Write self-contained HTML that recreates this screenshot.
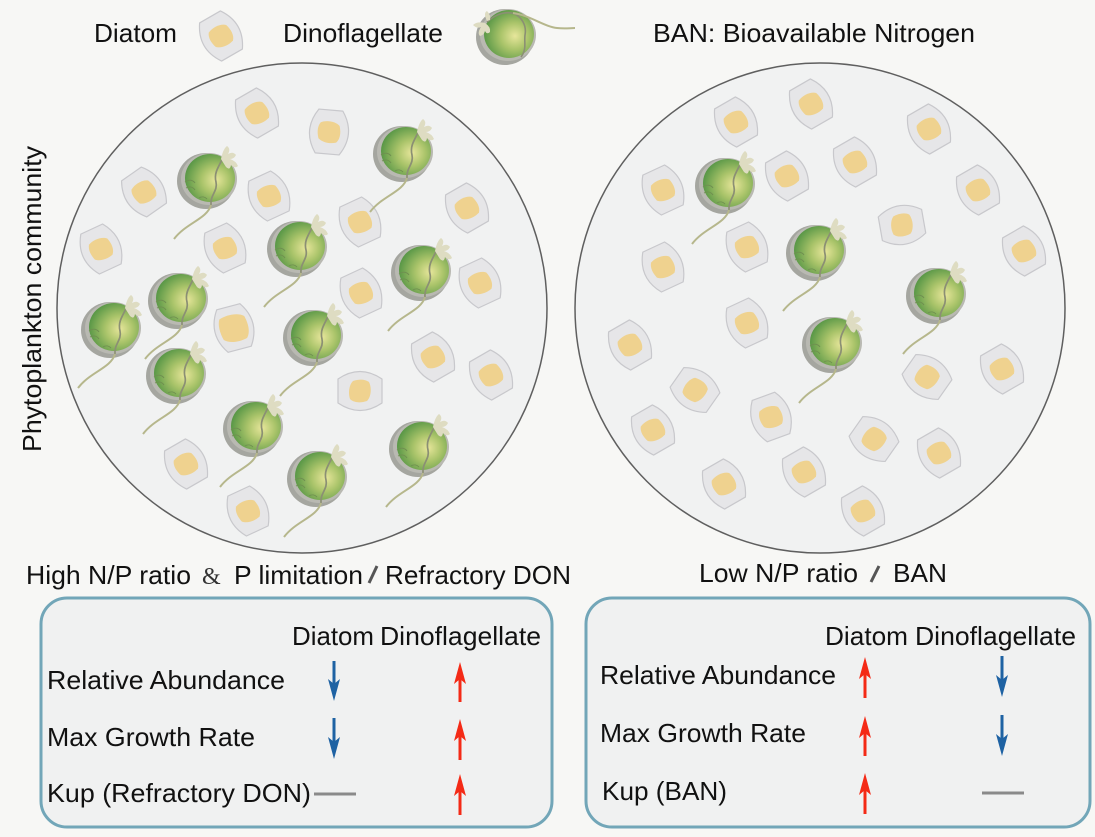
<!DOCTYPE html>
<html><head><meta charset="utf-8"><style>
html,body{margin:0;padding:0;background:#f7f7f5;}
svg{display:block;}
text{font-family:"Liberation Sans",Arial,sans-serif;fill:#111;font-size:26px;}
</style></head><body>
<svg width="1095" height="837" viewBox="0 0 1095 837" xmlns="http://www.w3.org/2000/svg">
<defs>
<radialGradient id="gg" cx="0.6" cy="0.55" r="0.62" fx="0.62" fy="0.54">
<stop offset="0" stop-color="#e7e69b"/>
<stop offset="0.45" stop-color="#aac46a"/>
<stop offset="1" stop-color="#559545"/>
</radialGradient>
<g id="dia">
<path d="M-12,-22 L12,-22 Q27,0 12,22 L-12,22 Q-27,0 -12,-22Z" fill="#e6e6e8" stroke="#c8c8cc" stroke-width="1.2" stroke-linejoin="round"/>
<path d="M-9,-9 C-3,-12 6,-11 10,-7 C12,-1 12,6 8,10 C2,12 -6,11 -10,7 C-12,1 -12,-5 -9,-9Z" fill="#efd28f"/>
</g>
<g id="diab">
<path d="M-12,-22 L12,-22 Q27,0 12,22 L-12,22 Q-27,0 -12,-22Z" fill="#e6e6e8" stroke="#c8c8cc" stroke-width="1.2" stroke-linejoin="round"/>
<path d="M-12,-12 C-4,-15 8,-14 13,-9 C15,-1 15,8 10,13 C2,15 -8,14 -13,9 C-15,1 -15,-7 -12,-12Z" fill="#efd28f"/>
</g>
<g id="dino">
<ellipse cx="-2" cy="2" rx="29" ry="28" fill="#a5a6a0"/>
<ellipse cx="1" cy="0" rx="28" ry="26" fill="#b9b9b2"/>
<ellipse cx="2" cy="-1" rx="25" ry="24" fill="url(#gg)"/>
<path d="M-23,3 c4,-3 8,-2 10,1 M-22,9 c4,-2 7,-1 9,2 M-9,19 c3,-2 6,-1 8,1" stroke="#6f8f50" fill="none" stroke-width="0.9"/>
<path d="M15,-21 C9,-10 6,-5 8,3 C10,12 2,16 3,26" stroke="#8b8f74" fill="none" stroke-width="1.7"/>
<path d="M3,26 C-1,40 -22,44 -34,60" stroke="#b6b78c" fill="none" stroke-width="2"/>
<path d="M13,-20 Q15,-30 19,-33 Q23,-30 20,-25 Q25,-28 28,-24 Q26,-20 22,-20 Q28,-18 30,-13 Q27,-10 23,-14 Q22,-8 18,-12 Q16,-15 13,-20Z" fill="#dedcc2"/>
</g>
</defs>

<!-- header -->
<text x="94" y="42" textLength="83" lengthAdjust="spacingAndGlyphs">Diatom</text>
<use href="#dia" transform="translate(221,36) rotate(-30)"/>
<text x="283" y="42" textLength="160" lengthAdjust="spacingAndGlyphs">Dinoflagellate</text>
<g transform="translate(507,35)">
<ellipse cx="-2" cy="2" rx="29" ry="28" fill="#a5a6a0"/>
<ellipse cx="1" cy="0" rx="28" ry="26" fill="#b9b9b2"/>
<ellipse cx="2" cy="-1" rx="25" ry="24" fill="url(#gg)"/>
<path d="M-20,-13 C-10,-22 0,-24 8,-21 C14,-18 20,-10 18,0 C17,8 20,14 14,22" stroke="#8b8f74" fill="none" stroke-width="1.6"/>
<path d="M6,-22 C22,-20 38,-8 50,-7 C58,-6 63,-7 68,-7" stroke="#b6b78c" fill="none" stroke-width="2"/>
<path d="M-22,-12 Q-30,-14 -34,-10 Q-30,-6 -26,-8 Q-30,-2 -27,1 Q-23,0 -22,-4 Q-20,0 -17,-3 Q-16,-8 -22,-12Z M-20,-14 Q-24,-22 -20,-24 Q-16,-20 -17,-15Z" fill="#dedcc2"/>
</g>
<text x="653" y="42" textLength="322" lengthAdjust="spacingAndGlyphs">BAN: Bioavailable Nitrogen</text>

<text transform="translate(41,452) rotate(-90)" x="0" y="0" textLength="306" lengthAdjust="spacingAndGlyphs">Phytoplankton community</text>

<!-- circles -->
<circle cx="302" cy="308" r="245" fill="#f1f2f2" stroke="#5f5f5f" stroke-width="1.5"/>
<circle cx="820" cy="308" r="245" fill="#f1f2f2" stroke="#5f5f5f" stroke-width="1.5"/>

<!-- left diatoms -->
<use href="#dia" transform="translate(257,113) rotate(-30)"/>
<use href="#dia" transform="translate(329,132) rotate(5)"/>
<use href="#dia" transform="translate(144,192) rotate(-35)"/>
<use href="#dia" transform="translate(269,196) rotate(-25)"/>
<use href="#dia" transform="translate(101,249) rotate(-25)"/>
<use href="#dia" transform="translate(225,248) rotate(-25)"/>
<use href="#dia" transform="translate(360,222) rotate(-25)"/>
<use href="#dia" transform="translate(467,208) rotate(-30)"/>
<use href="#dia" transform="translate(361,293) rotate(-25)"/>
<use href="#dia" transform="translate(480,283) rotate(-25)"/>
<use href="#diab" transform="translate(234,328) rotate(-15)"/>
<use href="#dia" transform="translate(433,357) rotate(-30)"/>
<use href="#dia" transform="translate(491,375) rotate(-30)"/>
<use href="#dia" transform="translate(360,391) rotate(90)"/>
<use href="#dia" transform="translate(186,464) rotate(-30)"/>
<use href="#dia" transform="translate(248,511) rotate(-25)"/>

<!-- left dinos -->
<use href="#dino" transform="translate(208,179)"/>
<use href="#dino" transform="translate(404,152)"/>
<use href="#dino" transform="translate(298,247)"/>
<use href="#dino" transform="translate(422,271)"/>
<use href="#dino" transform="translate(179,299)"/>
<use href="#dino" transform="translate(112,328)"/>
<use href="#dino" transform="translate(314,336)"/>
<use href="#dino" transform="translate(177,374)"/>
<use href="#dino" transform="translate(254,427)"/>
<use href="#dino" transform="translate(318,477)"/>
<use href="#dino" transform="translate(420,447)"/>

<!-- right diatoms -->
<use href="#dia" transform="translate(736,122) rotate(-30)"/>
<use href="#dia" transform="translate(811,104) rotate(-30)"/>
<use href="#dia" transform="translate(929,129) rotate(-30)"/>
<use href="#dia" transform="translate(663,190) rotate(-25)"/>
<use href="#dia" transform="translate(787,176) rotate(-30)"/>
<use href="#dia" transform="translate(855,162) rotate(-30)"/>
<use href="#dia" transform="translate(978,190) rotate(-30)"/>
<use href="#dia" transform="translate(902,225) rotate(80)"/>
<use href="#dia" transform="translate(1024,251) rotate(-30)"/>
<use href="#dia" transform="translate(663,267) rotate(-25)"/>
<use href="#dia" transform="translate(747,247) rotate(-25)"/>
<use href="#dia" transform="translate(747,323) rotate(-25)"/>
<use href="#dia" transform="translate(630,345) rotate(-30)"/>
<use href="#dia" transform="translate(695,390) rotate(-55)"/>
<use href="#dia" transform="translate(653,430) rotate(-30)"/>
<use href="#dia" transform="translate(771,417) rotate(-20)"/>
<use href="#dia" transform="translate(927,377) rotate(-55)"/>
<use href="#dia" transform="translate(1002,369) rotate(-30)"/>
<use href="#dia" transform="translate(874,439) rotate(-55)"/>
<use href="#dia" transform="translate(939,453) rotate(-30)"/>
<use href="#dia" transform="translate(724,484) rotate(-30)"/>
<use href="#dia" transform="translate(804,472) rotate(-30)"/>
<use href="#dia" transform="translate(863,511) rotate(-30)"/>

<!-- right dinos -->
<use href="#dino" transform="translate(726,184)"/>
<use href="#dino" transform="translate(817,251)"/>
<use href="#dino" transform="translate(937,294)"/>
<use href="#dino" transform="translate(833,343)"/>

<!-- bottom labels -->
<text x="26" y="584" textLength="165" lengthAdjust="spacingAndGlyphs">High N/P ratio</text>
<text x="202" y="584" style="font-family:'Liberation Serif',serif;font-size:24px;fill:#333">&amp;</text>
<text x="234" y="584" textLength="129" lengthAdjust="spacingAndGlyphs">P limitation</text>
<line x1="369" y1="583" x2="377" y2="566" stroke="#555" stroke-width="3"/>
<text x="385" y="584" textLength="186" lengthAdjust="spacingAndGlyphs">Refractory DON</text>

<text x="699" y="582" textLength="159" lengthAdjust="spacingAndGlyphs">Low N/P ratio</text>
<line x1="871" y1="582" x2="879" y2="566" stroke="#555" stroke-width="3"/>
<text x="893" y="582" textLength="54" lengthAdjust="spacingAndGlyphs">BAN</text>

<!-- boxes -->
<rect x="41" y="598" width="511" height="229" rx="26" fill="#f0f1f1" stroke="#72a6b8" stroke-width="3"/>
<rect x="586" y="598" width="504" height="229" rx="26" fill="#f0f1f1" stroke="#72a6b8" stroke-width="3"/>

<!-- left box content -->
<text x="292" y="645" textLength="82" lengthAdjust="spacingAndGlyphs">Diatom</text>
<text x="380" y="645" textLength="161" lengthAdjust="spacingAndGlyphs">Dinoflagellate</text>
<text x="47" y="689" textLength="238" lengthAdjust="spacingAndGlyphs">Relative Abundance</text>
<text x="47" y="746" textLength="208" lengthAdjust="spacingAndGlyphs">Max Growth Rate</text>
<text x="47" y="802" textLength="264" lengthAdjust="spacingAndGlyphs">Kup (Refractory DON)</text>
<line x1="314" y1="794" x2="356" y2="794" stroke="#8a8a8a" stroke-width="3"/>

<g fill="#1e62a3" stroke="#1e62a3">
<line x1="334" y1="661" x2="334" y2="688" stroke-width="3"/>
<polygon points="334,701 328,679 334,684 340,679" stroke="none"/>
<line x1="334" y1="718" x2="334" y2="746" stroke-width="3"/>
<polygon points="334,759 328,737 334,742 340,737" stroke="none"/>
</g>
<g fill="#f42a16" stroke="#f42a16">
<line x1="460" y1="675" x2="460" y2="702" stroke-width="3"/>
<polygon points="460,662 454,684 460,679 466,684" stroke="none"/>
<line x1="460" y1="732" x2="460" y2="760" stroke-width="3"/>
<polygon points="460,719 454,741 460,736 466,741" stroke="none"/>
<line x1="460" y1="787" x2="460" y2="815" stroke-width="3"/>
<polygon points="460,774 454,796 460,791 466,796" stroke="none"/>
</g>

<!-- right box content -->
<text x="825" y="645" textLength="83" lengthAdjust="spacingAndGlyphs">Diatom</text>
<text x="915" y="645" textLength="161" lengthAdjust="spacingAndGlyphs">Dinoflagellate</text>
<text x="600" y="684" textLength="236" lengthAdjust="spacingAndGlyphs">Relative Abundance</text>
<text x="600" y="742" textLength="206" lengthAdjust="spacingAndGlyphs">Max Growth Rate</text>
<text x="602" y="800" textLength="125" lengthAdjust="spacingAndGlyphs">Kup (BAN)</text>
<line x1="982" y1="793" x2="1024" y2="793" stroke="#8a8a8a" stroke-width="3"/>

<g fill="#f42a16" stroke="#f42a16">
<line x1="865" y1="670" x2="865" y2="698" stroke-width="3"/>
<polygon points="865,657 859,679 865,674 871,679" stroke="none"/>
<line x1="865" y1="729" x2="865" y2="756" stroke-width="3"/>
<polygon points="865,716 859,738 865,733 871,738" stroke="none"/>
<line x1="865" y1="786" x2="865" y2="814" stroke-width="3"/>
<polygon points="865,773 859,795 865,790 871,795" stroke="none"/>
</g>
<g fill="#1e62a3" stroke="#1e62a3">
<line x1="1002" y1="656" x2="1002" y2="684" stroke-width="3"/>
<polygon points="1002,697 996,675 1002,680 1008,675" stroke="none"/>
<line x1="1002" y1="715" x2="1002" y2="743" stroke-width="3"/>
<polygon points="1002,756 996,734 1002,739 1008,734" stroke="none"/>
</g>
</svg>
</body></html>
